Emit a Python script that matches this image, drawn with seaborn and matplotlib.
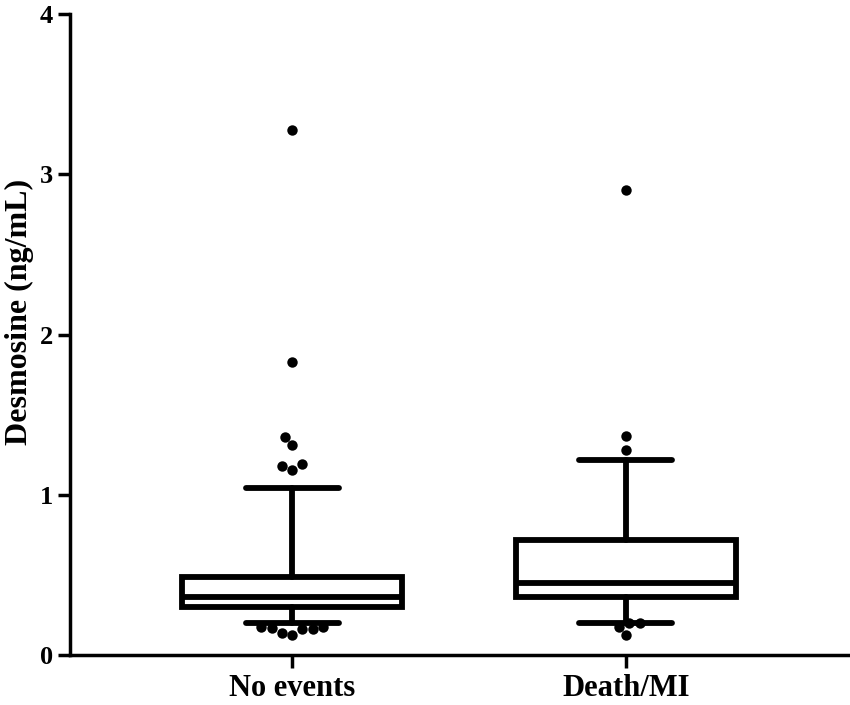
import pandas as pd
import numpy as np
import matplotlib
matplotlib.use("Agg")
import matplotlib.pyplot as plt
import seaborn as sns

# box summaries
groups = ['No events', 'Death/MI']
q1 = [0.30, 0.365]
median = [0.36, 0.45]
q3 = [0.49, 0.72]
whisker_low = [0.20, 0.20]
whisker_high = [1.04, 1.22]

# points beyond the whiskers
outliers_no_events = [3.28, 1.83, 1.36, 1.31, 1.19, 1.18, 1.155,
                      0.175, 0.17, 0.16, 0.125, 0.137, 0.16, 0.175]
outliers_death_mi = [2.90, 1.37, 1.28, 0.20, 0.175, 0.20, 0.125]

sns.set_style("ticks", {'axes.edgecolor': 'black', 'text.color': 'black',
                        'axes.labelcolor': 'black', 'xtick.color': 'black',
                        'ytick.color': 'black'})
plt.rcParams['font.family'] = ['Liberation Serif', 'DejaVu Serif']
plt.rcParams['font.weight'] = 'bold'

fig = plt.figure(figsize=(8.5, 7.05), dpi=100)
ax = fig.add_axes([0.0824, 0.0709, 0.9153, 0.909])

stats = []
for i, g in enumerate(groups):
    stats.append(dict(label=g, med=median[i], q1=q1[i], q3=q3[i],
                      whislo=whisker_low[i], whishi=whisker_high[i], fliers=[]))

lw = 4.2
ax.bxp(stats, positions=[0, 1], widths=0.66, capwidths=0.28,
       showfliers=False, patch_artist=True,
       boxprops=dict(facecolor='white', edgecolor='black', linewidth=lw),
       medianprops=dict(color='black', linewidth=lw),
       whiskerprops=dict(color='black', linewidth=lw),
       capprops=dict(color='black', linewidth=lw))

df = pd.DataFrame({
    'group': ['No events'] * len(outliers_no_events) + ['Death/MI'] * len(outliers_death_mi),
    'value': outliers_no_events + outliers_death_mi,
})
sns.swarmplot(data=df, x='group', y='value', order=groups, color='black',
              size=7.5, ax=ax, zorder=5)

ax.set_xlim(-0.667, 1.667)
ax.set_ylim(0, 4)
ax.set_yticks([0, 1, 2, 3, 4])
ax.set_xticks([0, 1])
ax.set_xticklabels(groups, fontsize=22)
ax.set_xlabel('')
ax.set_ylabel('Desmosine (ng/mL)', fontsize=23, fontweight='bold')
ax.yaxis.set_label_coords(-0.046, 0.535)

sns.despine(ax=ax)
for s in ['left', 'bottom']:
    ax.spines[s].set_linewidth(2.5)
ax.tick_params(axis='both', width=2.5, length=9, direction='out', colors='black')
ax.tick_params(axis='y', labelsize=19)
ax.tick_params(axis='x', pad=5)

fig.savefig('out.png', dpi=100)
